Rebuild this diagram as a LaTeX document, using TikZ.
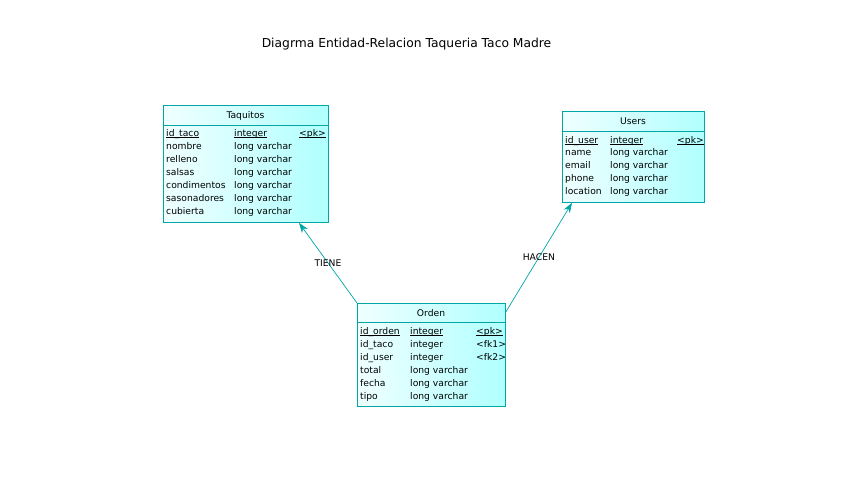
\documentclass[tikz,border=0pt]{standalone}
\usepackage{fontspec}
\setmainfont{DejaVu Sans}
\usepackage{tikz}
\usetikzlibrary{arrows.meta}
\usepackage{xcolor}
\definecolor{erline}{RGB}{0,166,166}
\newcommand{\lightcyan}{cyan!6}
\newcommand{\darkcyan}{cyan!31}
\newcommand{\keyfield}[1]{\setbox0\hbox{#1}\rlap{\rule[-1.7pt]{\wd0}{0.6pt}}#1}

\begin{document}
\begin{tikzpicture}[x=1pt,y=-1pt,font=\fontsize{9.2}{11}\selectfont]
    \tikzstyle{entity}=[draw=erline,line width=0.8pt,left color=\lightcyan,right color=\darkcyan,anchor=north west,inner sep=0pt]
    \tikzstyle{field}=[anchor=base west,inner sep=0pt]
    \tikzstyle{ename}=[anchor=base,inner sep=0pt]
    \tikzset{rel/.style={draw=erline,-{Stealth[length=10pt,width=7pt,inset=3pt]},line width=0.7pt}}
    \useasboundingbox (0,0) rectangle (860,493);
    \node[font=\fontsize{12.3}{14}\selectfont] (title) at (406.5,44) {Diagrma Entidad-Relacion Taqueria Taco Madre};

    % Taquitos
    \node[entity,minimum width=165pt,minimum height=117pt] (taquitos) at (163,105) {};
    \node[ename] (taquitos-name) at (245.5,118) {Taquitos};
    \draw[erline,line width=0.8pt] (163,125) -- (328,125);
    \node[field] (taquitos-0) at (166,136) {\keyfield{id\_taco}};
    \node[field] at (234,136) {\keyfield{integer}};
    \node[field] at (299,136) {\keyfield{<pk>}};
    \foreach \n [count=\i] in {nombre,relleno,salsas,condimentos,sasonadores,cubierta} {
        \node[field] (taquitos-\i) at (166,136+13*\i) {\n};
        \node[field] at (234,136+13*\i) {long varchar};
    }

    % Users
    \node[entity,minimum width=142pt,minimum height=91pt] (users) at (562,111) {};
    \node[ename] (users-name) at (633,124) {Users};
    \draw[erline,line width=0.8pt] (562,131) -- (704,131);
    \node[field] (users-0) at (565,143) {\keyfield{id\_user}};
    \node[field] at (610,143) {\keyfield{integer}};
    \node[field] at (677,143) {\keyfield{<pk>}};
    \foreach \n [count=\i] in {name,email,phone,location} {
        \node[field] (users-\i) at (565,143+12.8*\i) {\n};
        \node[field] at (610,143+12.8*\i) {long varchar};
    }

    % Orden
    \node[entity,minimum width=148pt,minimum height=103pt] (orden) at (357,303) {};
    \node[ename] (orden-name) at (431,316) {Orden};
    \draw[erline,line width=0.8pt] (357,322) -- (505,322);
    \node[field] (orden-0) at (360,334) {\keyfield{id\_orden}};
    \node[field] at (410,334) {\keyfield{integer}};
    \node[field] at (476,334) {\keyfield{<pk>}};
    \foreach \n/\t/\k [count=\i] in {id\_taco/integer/<fk1>,id\_user/integer/<fk2>,total/long varchar/,fecha/long varchar/,tipo/long varchar/} {
        \node[field] (orden-\i) at (360,334+13*\i) {\n};
        \node[field] at (410,334+13*\i) {\t};
        \node[field] at (476,334+13*\i) {\k};
    }

    % relaciones
    \draw[rel] (orden.north west) -- node[inner sep=0pt] (tiene) {TIENE} ([xshift=136pt]taquitos.south west);
    \draw[rel] ([yshift=-9pt]orden.north east) -- node[inner sep=0pt] (hacen) {HACEN} ([xshift=10pt]users.south west);
\end{tikzpicture}
\end{document}
